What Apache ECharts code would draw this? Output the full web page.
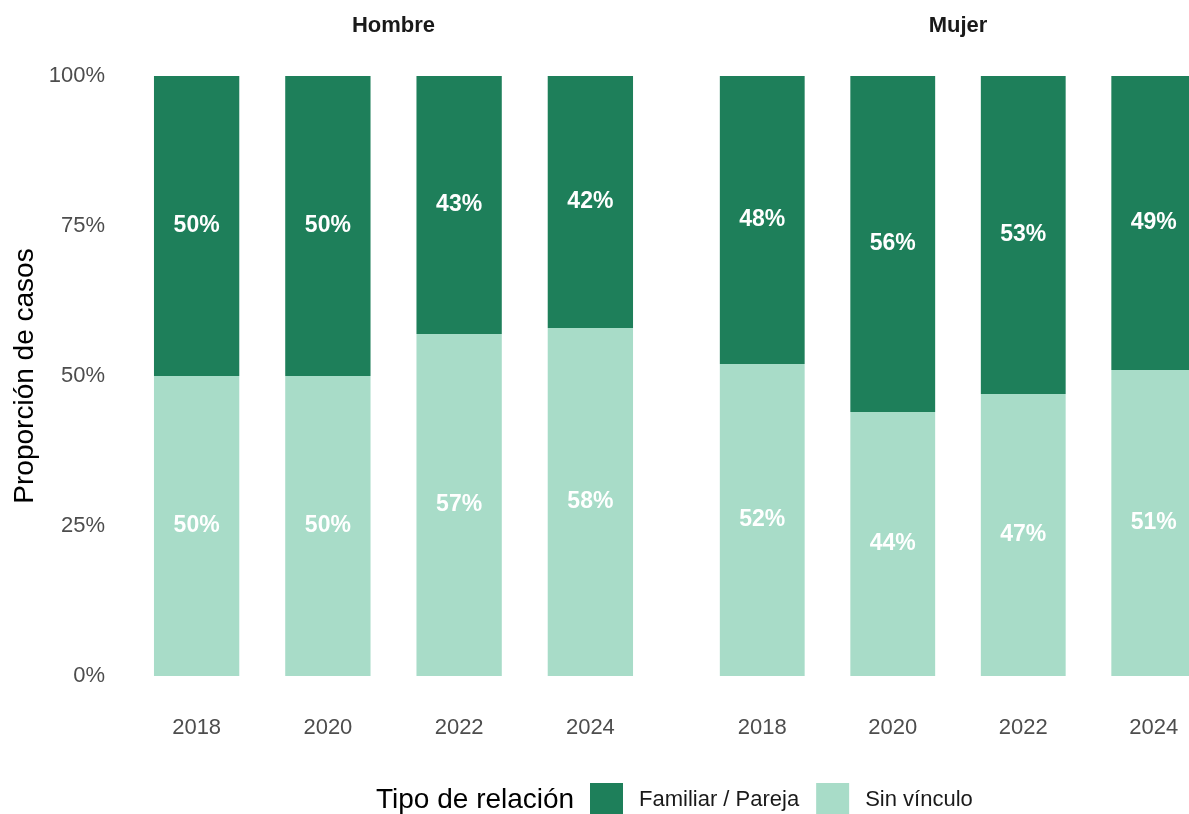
<!DOCTYPE html>
<html>
<head>
<meta charset="utf-8">
<title>Tipo de relación por sexo</title>
<script src="https://cdn.jsdelivr.net/npm/echarts@6/dist/echarts.min.js"></script>
<style>
  html, body { margin: 0; padding: 0; background: #ffffff; }
  #chart { width: 1189px; height: 814px; }
</style>
</head>
<body>
<div id="chart"></div>
<script>
// Survey years shown in each panel
const years = ['2018', '2020', '2022', '2024'];
// Panel headings
const panels = ['Hombre', 'Mujer'];
// Series names (legend order)
const seriesNames = ['Familiar / Pareja', 'Sin vínculo'];

// Share of cases (%) per year, men
const hombreSinVinculo = [50, 50, 57, 58];
const hombreFamiliar   = [50, 50, 43, 42];
// Share of cases (%) per year, women
const mujerSinVinculo  = [52, 44, 47, 51];
const mujerFamiliar    = [48, 56, 53, 49];

// Y axis ticks
const yTicks = [0, 25, 50, 75, 100];

const COLOR_FAM = '#1e7f5a';
const COLOR_SIN = '#a8dcc8';
const FONT = '"Liberation Sans", Arial, sans-serif';

const chart = echarts.init(document.getElementById('chart'), null, { renderer: 'canvas' });

// The right panel runs past the canvas edge, so its last bar is clipped
const grids = [
  { left: 131, width: 525, top: 76, bottom: 138, outerBoundsMode: 'none', containLabel: false },
  { left: 697, width: 522, top: 76, bottom: 138, outerBoundsMode: 'none', containLabel: false }
];

function xAxis(i) {
  return {
    type: 'category',
    gridIndex: i,
    data: years,
    axisLine: { show: false },
    axisTick: { show: false },
    splitLine: { show: false },
    axisLabel: { color: '#4d4d4d', fontSize: 22, fontFamily: FONT, margin: 41 }
  };
}

function yAxis(i) {
  return {
    type: 'value',
    gridIndex: i,
    min: 0,
    max: yTicks[yTicks.length - 1],
    interval: 25,
    axisLine: { show: false },
    axisTick: { show: false },
    splitLine: { show: false },
    axisLabel: {
      show: i === 0,
      color: '#4d4d4d',
      fontSize: 22,
      fontFamily: FONT,
      margin: 26,
      padding: [4, 0, 0, 0],
      formatter: v => v + '%'
    },
    name: i === 0 ? 'Proporción de casos' : '',
    nameLocation: 'middle',
    nameGap: 92,
    nameRotate: 90,
    nameTextStyle: { color: '#000000', fontSize: 28, fontFamily: FONT }
  };
}

function barSeries(name, data, gi, color) {
  return {
    name: name,
    type: 'bar',
    xAxisIndex: gi,
    yAxisIndex: gi,
    stack: 'panel' + gi,
    barWidth: '65%',
    data: data,
    itemStyle: { color: color },
    label: {
      show: true,
      position: 'inside',
      color: '#ffffff',
      fontSize: 23,
      fontWeight: 'bold',
      fontFamily: FONT,
      formatter: p => p.value + '%'
    },
    emphasis: { disabled: true }
  };
}

const option = {
  backgroundColor: '#ffffff',
  animation: false,
  title: panels.map((t, i) => ({
    text: t,
    left: grids[i].left + grids[i].width / 2,
    top: 15,
    padding: 0,
    textAlign: 'center',
    textStyle: { color: '#1a1a1a', fontSize: 22, fontWeight: 'bold', fontFamily: FONT }
  })),
  legend: {
    data: seriesNames,
    left: 590,
    top: 783,
    orient: 'horizontal',
    icon: 'rect',
    itemWidth: 33,
    itemHeight: 33,
    itemGap: 17,
    padding: 0,
    selectedMode: false,
    textStyle: { color: '#1a1a1a', fontSize: 22, fontFamily: FONT, padding: [0, 0, 0, 11] }
  },
  graphic: [{
    type: 'text',
    left: 376,
    top: 786,
    style: { text: 'Tipo de relación', fill: '#000000', fontSize: 28, fontFamily: FONT }
  }],
  grid: grids,
  xAxis: [xAxis(0), xAxis(1)],
  yAxis: [yAxis(0), yAxis(1)],
  series: [
    barSeries(seriesNames[1], hombreSinVinculo, 0, COLOR_SIN),
    barSeries(seriesNames[0], hombreFamiliar, 0, COLOR_FAM),
    barSeries(seriesNames[1], mujerSinVinculo, 1, COLOR_SIN),
    barSeries(seriesNames[0], mujerFamiliar, 1, COLOR_FAM)
  ]
};

chart.setOption(option);
</script>
</body>
</html>
